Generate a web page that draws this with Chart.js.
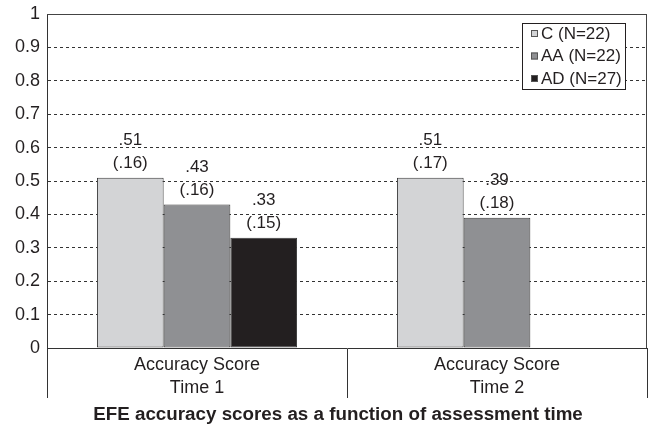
<!DOCTYPE html>
<html>
<head>
<meta charset="utf-8">
<script src="https://cdn.jsdelivr.net/npm/chart.js@4/dist/chart.umd.min.js"></script>
<style>
    html, body { margin: 0; padding: 0; background: #fff; }
    #wrap { width: 655px; height: 426px; }
</style>
</head>
<body>
<div id="wrap"><canvas id="chart"></canvas></div>
<script>
const categories = [['Accuracy Score', 'Time 1'], ['Accuracy Score', 'Time 2']];
const groupNames = ['C (N=22)', 'AA (N=22)', 'AD (N=27)'];
const cMeans = [0.51, 0.51];
const cSD = [0.16, 0.17];
const aaMeans = [0.43, 0.39];
const aaSD = [0.16, 0.18];
const adMeans = [0.33, null];
const adSD = [0.15, null];
const yTicks = [0, 0.1, 0.2, 0.3, 0.4, 0.5, 0.6, 0.7, 0.8, 0.9, 1];
const chartTitle = 'EFE accuracy scores as a function of assessment time';

const ink = '#231f20';
const font = 'Liberation Sans, Arial, Helvetica, sans-serif';

function shortNum(v) {
    return v.toFixed(2).replace(/^0/, '');
}

const barLabels = {
    id: 'barLabels',
    afterDatasetsDraw(chart) {
        const ctx = chart.ctx;
        ctx.save();
        ctx.font = `17px ${font}`;
        ctx.fillStyle = ink;
        ctx.textAlign = 'center';
        ctx.textBaseline = 'middle';
        chart.data.datasets.forEach((ds, i) => {
            chart.getDatasetMeta(i).data.forEach((bar, j) => {
                const v = ds.data[j];
                if (v == null) return;
                ctx.fillText(shortNum(v), bar.x, bar.y - 37);
                ctx.fillText(`(${shortNum(ds.sd[j])})`, bar.x, bar.y - 14);
            });
        });
        ctx.restore();
    }
};

const frame = {
    id: 'frame',
    afterDraw(chart) {
        const { ctx, chartArea: a } = chart;
        ctx.save();
        ctx.strokeStyle = '#444';
        ctx.lineWidth = 1;
        ctx.beginPath();
        ctx.moveTo(a.left, a.top + 0.5);
        ctx.lineTo(a.right, a.top + 0.5);
        ctx.moveTo(a.right - 0.5, a.top);
        ctx.lineTo(a.right - 0.5, a.bottom);
        ctx.stroke();

        // legend box
        const w = 103, h = 66;
        const x = a.right - 22 - w, y = a.top + 9;
        ctx.fillStyle = '#fff';
        ctx.fillRect(x, y, w, h);
        ctx.strokeStyle = ink;
        ctx.strokeRect(x + 0.5, y + 0.5, w, h);
        ctx.font = `17px ${font}`;
        ctx.textBaseline = 'middle';
        ctx.textAlign = 'left';
        chart.data.datasets.forEach((ds, i) => {
            const cy = y + 10 + i * 22.5;
            ctx.fillStyle = ds.backgroundColor;
            ctx.fillRect(x + 9, cy - 3, 7, 7);
            ctx.strokeStyle = '#555';
            ctx.strokeRect(x + 9.5, cy - 2.5, 6, 6);
            ctx.fillStyle = ink;
            ctx.fillText(ds.label, x + 19, cy + 1);
        });

        // title, sits a little left of the plot centre
        ctx.font = `bold 18.8px ${font}`;
        ctx.textAlign = 'center';
        ctx.fillStyle = ink;
        ctx.fillText(chartTitle, (a.left + a.right) / 2 - 9, chart.height - 11);
        ctx.restore();
    }
};

new Chart(document.getElementById('chart'), {
    type: 'bar',
    data: {
        labels: categories,
        datasets: [
            { label: groupNames[0], data: cMeans, sd: cSD, backgroundColor: '#d3d4d6' },
            { label: groupNames[1], data: aaMeans, sd: aaSD, backgroundColor: '#8f9093' },
            { label: groupNames[2], data: adMeans, sd: adSD, backgroundColor: ink }
        ]
    },
    options: {
        responsive: true,
        maintainAspectRatio: false,
        animation: false,
        layout: { padding: { left: 0, right: 8, top: 14, bottom: 28 } },
        datasets: {
            bar: {
                categoryPercentage: 0.667,
                barPercentage: 1,
                borderWidth: 1,
                borderColor: '#3a3a3a',
                borderSkipped: false
            }
        },
        scales: {
            x: {
                grid: {
                    offset: true,
                    drawOnChartArea: false,
                    tickLength: 50,
                    tickColor: '#333',
                    tickWidth: 1
                },
                border: { color: '#333', width: 1 },
                ticks: {
                    color: ink,
                    font: { family: font, size: 18, lineHeight: 1.25 },
                    padding: -44,
                    maxRotation: 0
                },
                afterFit(scale) {
                    scale.height = 50;
                    scale.paddingLeft = 0;
                    scale.paddingRight = 0;
                }
            },
            y: {
                min: 0,
                max: 1,
                afterBuildTicks(scale) { scale.ticks = yTicks.map(v => ({ value: v })); },
                grid: {
                    drawTicks: false,
                    color: '#333',
                    lineWidth: 1
                },
                border: { color: '#333', width: 1, dash: [3, 3] },
                ticks: {
                    color: ink,
                    font: { family: font, size: 18 },
                    padding: 7,
                    callback: v => String(v)
                },
                afterFit(scale) {
                    scale.width = 47;
                    scale.paddingTop = 0;
                    scale.paddingBottom = 0;
                }
            }
        },
        plugins: {
            legend: { display: false },
            tooltip: { enabled: false },
            title: { display: false }
        }
    },
    plugins: [barLabels, frame]
});
</script>
</body>
</html>
